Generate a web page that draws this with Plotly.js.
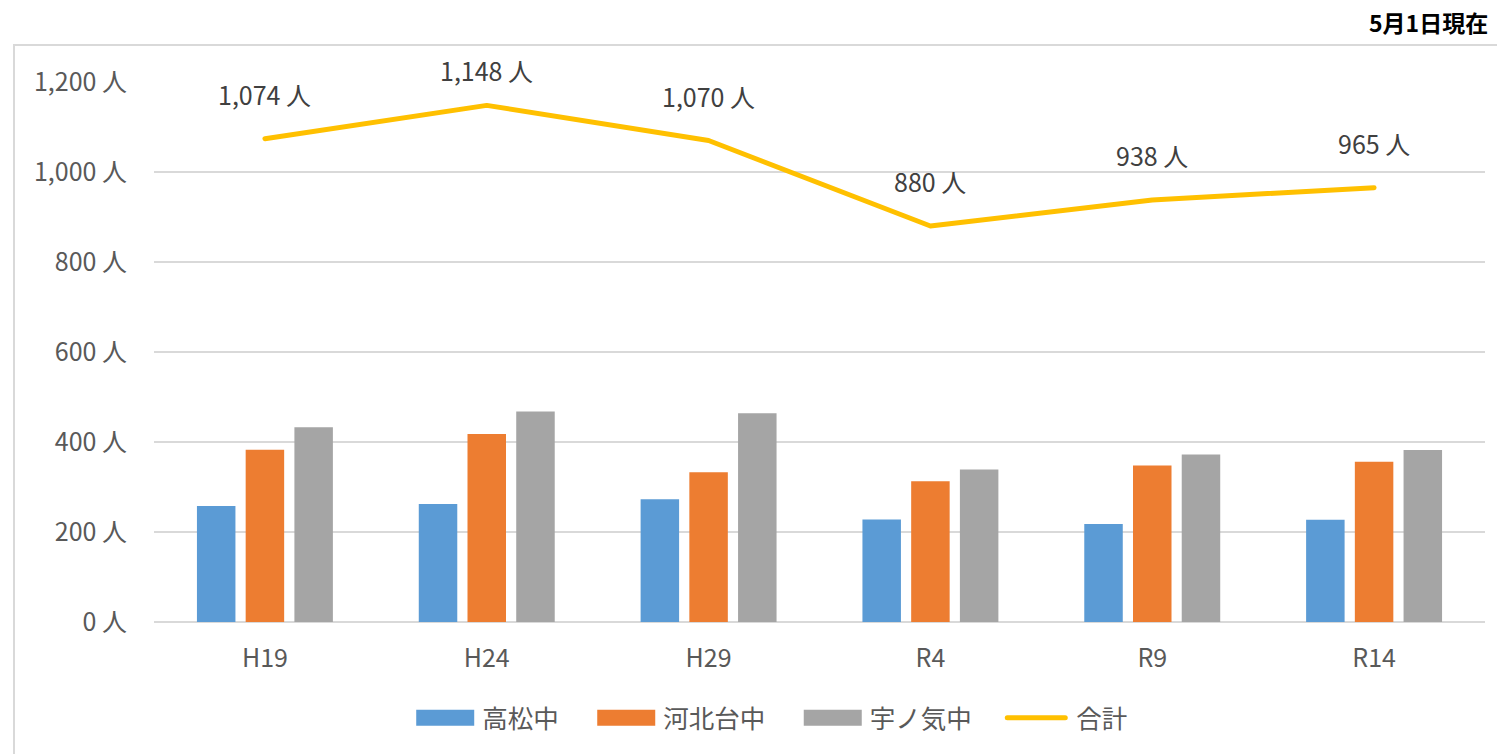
<!DOCTYPE html>
<html>
<head>
<meta charset="utf-8">
<script src="https://cdn.plot.ly/plotly-3.0.1.min.js"></script>
<style>
  html, body { margin: 0; padding: 0; background: #fff; }
  #wrap { position: relative; width: 1497px; height: 754px; }
  #chart { width: 1497px; height: 754px; }
  #frame { position: absolute; left: 13px; top: 44px; width: 1500px; height: 800px;
           border-left: 2px solid #d9d9d9; border-top: 2px solid #d9d9d9; pointer-events: none; box-sizing: border-box; }
  #chart .scatterlayer .js-line { stroke-linecap: round; stroke-linejoin: round; }
  #chart .legend .legendlines path { stroke-linecap: round; }
</style>
</head>
<body>
<div id="wrap">
  <div id="chart"></div>
  <div id="frame"></div>
</div>
<script>
// ---- data ----
const categories = ['H19', 'H24', 'H29', 'R4', 'R9', 'R14'];
const takamatsu = [258, 262, 273, 228, 218, 227];
const kahokudai = [383, 418, 333, 313, 348, 356];
const unoke = [433, 468, 464, 339, 372, 382];
const total = [1074, 1148, 1070, 880, 938, 965];
const seriesNames = ['高松中', '河北台中', '宇ノ気中', '合計'];
const yTicks = [0, 200, 400, 600, 800, 1000, 1200];
const note = '5月1日現在';

const FONT = '"Noto Sans CJK JP", "Noto Sans", sans-serif';
const GAP = '\u3000'; // spacing after legend entries

const traces = [
  { type: 'bar', name: seriesNames[0] + GAP, x: categories, y: takamatsu, marker: { color: '#5B9BD5' }, hoverinfo: 'y' },
  { type: 'bar', name: seriesNames[1] + GAP, x: categories, y: kahokudai, marker: { color: '#ED7D31' }, hoverinfo: 'y' },
  { type: 'bar', name: seriesNames[2] + GAP, x: categories, y: unoke, marker: { color: '#A5A5A5' }, hoverinfo: 'y' },
  { type: 'scatter', mode: 'lines', name: seriesNames[3], x: categories, y: total,
    line: { color: '#FFC000', width: 5, shape: 'linear' }, hoverinfo: 'y' }
];

const fmt = v => v.toLocaleString('en-US') + ' 人';

// data labels above the total line; keep them from running past the top of the frame
const PX_PER_UNIT = 540 / 1200;
const LABEL_OFFSET = 45;
const LABEL_CEIL = 1227;
const annotations = categories.map((c, i) => ({
  x: c, y: total[i], xref: 'x', yref: 'y',
  text: fmt(total[i]), showarrow: false,
  yshift: Math.min(LABEL_OFFSET, (LABEL_CEIL - total[i]) * PX_PER_UNIT),
  font: { family: FONT, size: 25, color: '#404040' }
}));
annotations.push({
  text: note, xref: 'paper', yref: 'paper', x: 1.004, y: 1.111,
  xanchor: 'right', yanchor: 'middle', showarrow: false,
  font: { family: FONT, size: 23, color: '#000000', weight: 'bold' }
});

const layout = {
  width: 1497, height: 754,
  margin: { l: 154, r: 12, t: 82, b: 132 },
  paper_bgcolor: '#ffffff', plot_bgcolor: '#ffffff',
  barmode: 'group', bargap: 0.341, bargroupgap: 0.21,
  font: { family: FONT, size: 25, color: '#595959' },
  showlegend: true,
  legend: { orientation: 'h', x: 0.191, xanchor: 'left', y: -0.178, yanchor: 'middle',
            font: { family: FONT, size: 25.5, color: '#595959' }, traceorder: 'normal', itemwidth: 64 },
  xaxis: { type: 'category', showgrid: false, zeroline: false, showline: false,
           ticks: 'outside', ticklen: 14, tickcolor: 'rgba(0,0,0,0)',
           tickfont: { family: FONT, size: 25, color: '#595959' } },
  yaxis: { range: [0, 1200], tickvals: yTicks, ticktext: yTicks.map(fmt),
           showgrid: true, gridcolor: '#d9d9d9', gridwidth: 1.5,
           zeroline: true, zerolinecolor: '#d9d9d9', zerolinewidth: 1.5, showline: false,
           ticks: 'outside', ticklen: 21, tickcolor: 'rgba(0,0,0,0)',
           tickfont: { family: FONT, size: 25, color: '#595959' } },
  annotations: annotations
};

Plotly.newPlot('chart', traces, layout, { displayModeBar: false, staticPlot: true }).then(() => {
  // widen the bar legend swatches to Excel-style rectangles
  document.querySelectorAll('#chart .legend .legendpoints path').forEach(p => {
    const d = (p.getAttribute('d') || '').replace(/\s/g, '');
    if (d === 'M6,6H-6V-6H6Z') {
      p.setAttribute('d', 'M29,8H-29V-8H29Z');
    }
  });
  document.querySelectorAll('#chart .legend .legendlines path').forEach(p => {
    p.setAttribute('d', 'M5,0h58');
  });
});
</script>
</body>
</html>
